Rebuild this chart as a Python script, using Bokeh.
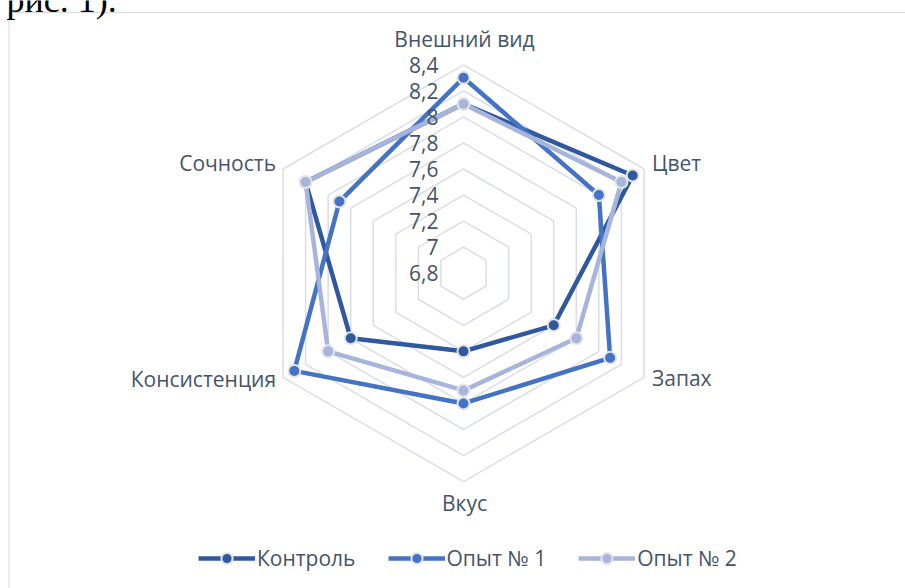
import numpy as np
from bokeh.plotting import figure
from bokeh.models import Range1d, Legend, LegendItem, ColumnDataSource
from bokeh.core.properties import value
from bokeh.embed import file_html
from bokeh.resources import INLINE

# ---- data ----
categories = ["Внешний вид", "Цвет", "Запах", "Вкус", "Консистенция", "Сочность"]
kontrol = [8.1, 8.3, 7.6, 7.4, 7.8, 8.2]
opyt1 = [8.3, 8.0, 8.1, 7.8, 8.3, 7.9]
opyt2 = [8.1, 8.2, 7.8, 7.7, 8.0, 8.2]
series_names = ["Контроль", "Опыт № 1", "Опыт № 2"]
tick_values = [6.8, 7.0, 7.2, 7.4, 7.6, 7.8, 8.0, 8.2, 8.4]
tick_labels = ["6,8", "7", "7,2", "7,4", "7,6", "7,8", "8", "8,2", "8,4"]
axis_min, axis_max = 6.8, 8.4

# ---- styles ----
colors = ["#30589F", "#4472C4", "#A7B5DC"]
marker_edge = "#E4E4E4"
grid_color = "#D9DEE6"
text_color = "#44546A"
FONT = "Open Sans"
FS = "21px"

W, H = 905, 588
PX = 130.25            # pixels per unit of value
CX, CY = 463.0, 272.7  # centre in figure pixels (from left / from top)

p = figure(width=W, height=H, output_backend="svg", toolbar_location=None,
           x_range=Range1d(-CX / PX, (W - CX) / PX),
           y_range=Range1d(-(H - CY) / PX, CY / PX),
           min_border=0, outline_line_color=None)
p.axis.visible = False
p.grid.visible = False
p.background_fill_color = "white"
p.border_fill_color = "white"

n = len(categories)
angles = np.pi / 2 - np.arange(n) * 2 * np.pi / n


def polar(vals):
    r = np.asarray(vals, dtype=float) - axis_min
    return r * np.cos(angles), r * np.sin(angles)


# chart area border (top and left)
top_y = (CY - 12) / PX
left_x = (8.5 - CX) / PX
p.line([left_x, (W - CX) / PX], [top_y, top_y], line_color="#D9D9D9", line_width=1)
p.line([left_x, left_x], [top_y, -(H - CY) / PX], line_color="#D9D9D9", line_width=1)

# clipped document text above the chart
p.text(x=[(6 - CX) / PX], y=[(CY - 8) / PX], text=["рис. 1)."], y_offset=-9,
       text_font=value("Liberation Serif"), text_font_size="36px",
       text_color="black", text_baseline="alphabetic", text_align="left")

# hexagonal grid
for tv in tick_values[1:]:
    gx, gy = polar([tv] * n)
    p.line(list(gx) + [gx[0]], list(gy) + [gy[0]], line_color=grid_color, line_width=1.5)

# series
legend_items = []
for name, vals, col in zip(series_names, [kontrol, opyt1, opyt2], colors):
    sx, sy = polar(vals)
    lr = p.line(list(sx) + [sx[0]], list(sy) + [sy[0]], line_color=col, line_width=4.5,
                line_join="round")
    mr = p.scatter(sx, sy, size=12, fill_color=col, line_color=marker_edge, line_width=2)
    legend_items.append(LegendItem(label=name, renderers=[lr, mr]))

# category labels
ox, oy = polar([axis_max] * n)
label_offsets = [(1, -26, "center"), (8, -6, "left"), (8, 1, "left"),
                 (1, 21, "center"), (-7, 2, "right"), (-7, -6, "right")]
for i, cat in enumerate(categories):
    dx, dy, al = label_offsets[i]
    p.text(x=[ox[i]], y=[oy[i]], text=[cat], x_offset=dx, y_offset=dy,
           text_font=value(FONT), text_font_size=FS, text_color=text_color,
           text_align=al, text_baseline="alphabetic")

# value tick labels (on top of lines)
tick_src = ColumnDataSource(dict(x=[0.0] * len(tick_values),
                                 y=[v - axis_min for v in tick_values],
                                 t=tick_labels))
p.text(x="x", y="y", text="t", source=tick_src, x_offset=-25, y_offset=0,
       text_font=value(FONT), text_font_size=FS, text_color=text_color,
       text_align="right", text_baseline="alphabetic")

legend = Legend(items=legend_items, orientation="horizontal", location=(198, 16),
                glyph_width=57, glyph_height=28, label_standoff=2, spacing=32,
                padding=0, margin=0, border_line_alpha=0, background_fill_alpha=0,
                label_text_font=FONT, label_text_font_size=FS,
                label_text_color=text_color)
p.add_layout(legend, "center")

open("out.html", "w").write(file_html(p, INLINE))
